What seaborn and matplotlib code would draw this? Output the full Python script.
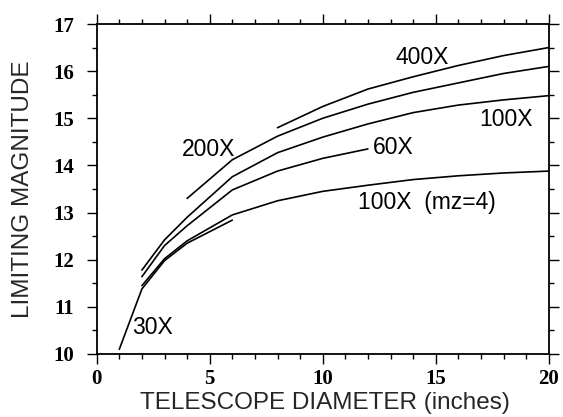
import matplotlib

matplotlib.use("Agg")
import matplotlib.pyplot as plt
import seaborn as sns
from matplotlib.ticker import MultipleLocator

# telescope diameter (inches) and limiting magnitude for each magnification
D_30X = [1, 2, 3, 4, 6]
LM_30X = [10.1, 11.38, 11.98, 12.35, 12.84]

D_60X = [2, 3, 4, 6, 8, 10, 12]
LM_60X = [11.64, 12.3, 12.72, 13.48, 13.88, 14.15, 14.35]

D_100X = [2, 3, 4, 6, 8, 10, 12, 14, 16, 18, 20]
LM_100X = [11.78, 12.42, 12.9, 13.76, 14.27, 14.6, 14.88, 15.12, 15.28, 15.39, 15.48]

D_200X = [4, 6, 8, 10, 12, 14, 16, 18, 20]
LM_200X = [13.3, 14.12, 14.62, 15.0, 15.3, 15.55, 15.75, 15.95, 16.1]

D_400X = [8, 10, 12, 14, 16, 18, 20]
LM_400X = [14.8, 15.25, 15.62, 15.88, 16.12, 16.33, 16.5]

D_MZ4 = [2, 3, 4, 6, 8, 10, 12, 14, 16, 18, 20]
LM_MZ4 = [11.45, 12.02, 12.4, 12.95, 13.25, 13.45, 13.58, 13.7, 13.78, 13.84, 13.88]

CURVE_LABELS = ["30X", "60X", "100X", "200X", "400X", "100X  (mz=4)"]
LABEL_X = [2.47, 13.1, 18.1, 4.94, 14.4, 11.55]
LABEL_Y = [10.56, 14.38, 14.98, 14.33, 16.28, 13.21]

sns.set_style("ticks")
plt.rcParams["font.family"] = ["Liberation Sans", "DejaVu Sans"]

fig = plt.figure(figsize=(5.63, 4.17), dpi=100)
ax = fig.add_axes([96.7 / 563, (417 - 354) / 417, 452 / 563, 330 / 417])

series = [
    (D_30X, LM_30X),
    (D_60X, LM_60X),
    (D_100X, LM_100X),
    (D_200X, LM_200X),
    (D_400X, LM_400X),
    (D_MZ4, LM_MZ4),
]
for d, lm in series:
    sns.lineplot(x=d, y=lm, ax=ax, color="black", linewidth=1.2,
                 sort=False, estimator=None)

for txt, lx, ly in zip(CURVE_LABELS, LABEL_X, LABEL_Y):
    ha = "left" if "mz" in txt else "center"
    ax.text(lx, ly, txt, ha=ha, va="center", fontsize=16.5, color="black")

ax.set_xlim(0, 20)
ax.set_ylim(10, 17)
ax.xaxis.set_major_locator(MultipleLocator(5))
ax.xaxis.set_minor_locator(MultipleLocator(1))
ax.yaxis.set_major_locator(MultipleLocator(1))
ax.yaxis.set_minor_locator(MultipleLocator(0.5))
ax.tick_params(which="both", direction="out", top=True, right=True,
               width=1.0, colors="black")
ax.tick_params(which="major", length=7)
ax.tick_params(which="minor", length=3.5)
ax.tick_params(axis="y", which="major", pad=9)
ax.tick_params(axis="x", which="major", pad=4)
for lab in ax.get_xticklabels() + ax.get_yticklabels():
    lab.set_fontfamily("Liberation Serif")
    lab.set_fontweight("bold")
    lab.set_fontsize(15)
for sp in ax.spines.values():
    sp.set_linewidth(1.3)
    sp.set_color("black")

ax.set_xlabel("TELESCOPE DIAMETER (inches)", fontsize=17.5)
ax.set_ylabel("LIMITING MAGNITUDE", fontsize=17.5)
ax.xaxis.set_label_coords(0.505, -0.148)
ax.yaxis.set_label_coords(-0.162, 0.5)
ax.xaxis.label.set_va("center")
ax.yaxis.label.set_va("center")

fig.savefig("out.png", dpi=100)
